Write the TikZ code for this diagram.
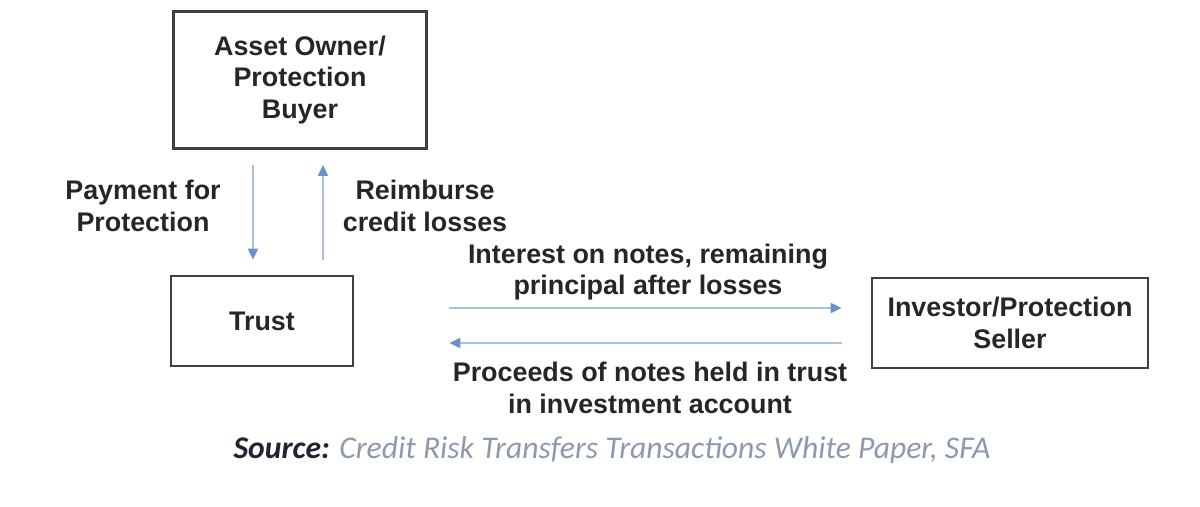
\documentclass[tikz,border=0pt]{standalone}
\usepackage{fontspec}
\setmainfont{Liberation Sans}
\newfontfamily\srcfont{Carlito}
\usetikzlibrary{calc, positioning}
\usetikzlibrary{arrows.meta}
\definecolor{flowblue}{HTML}{A9C2E0}
\definecolor{headblue}{HTML}{6693CC}
\definecolor{boxgray}{HTML}{404040}
\definecolor{srcgray}{HTML}{8C99B0}
\definecolor{srcdark}{HTML}{1F2430}

\begin{document}
\begin{tikzpicture}[x=0.02cm, y=-0.02cm,
  party/.style={draw=boxgray, line width=1.6pt, align=center, inner sep=0pt,
    font=\bfseries\fontsize{15.3}{17.8}\selectfont, text=black!85},
  lbl/.style={align=center, inner sep=0pt,
    font=\bfseries\fontsize{15.3}{17.8}\selectfont, text=black!85},
  flow/.style={draw=flowblue, line width=1.1pt,
    -{Triangle[length=2.2mm, width=2mm, color=headblue]}}]
\useasboundingbox (0,0) rectangle (1200,507);
\def\gap{15}
% parties
\node[party, minimum width=5.06cm, minimum height=2.74cm] (owner) at (300,80) {Asset Owner/\\Protection\\Buyer};
\node[party, minimum width=3.64cm, minimum height=1.8cm] (trust) at (262,321) {Trust};
\node[party, minimum width=5.52cm, minimum height=1.8cm] (investor) at (1010,323) {Investor/Protection\\Seller};
% ends of the flows
\coordinate (payTop) at ($(owner.south)+(-47,\gap)$);
\coordinate (payBot) at ($(trust.north)+(-9,-\gap)$);
\coordinate (reimBot) at ($(trust.north)+(61,-\gap)$);
\coordinate (reimTop) at ($(owner.south)+(23,\gap)$);
\coordinate (intL) at ($(trust.east)+(95,-13)$);
\coordinate (intR) at ($(investor.west)+(-29,-15)$);
\coordinate (proR) at ($(investor.west)+(-29,20)$);
\coordinate (proL) at ($(trust.east)+(95,22)$);
\draw[flow] (payTop) -- (payBot);
\draw[flow] (reimBot) -- (reimTop);
\draw[flow] (intL) -- (intR);
\draw[flow] (proR) -- (proL);
% labels
\node[lbl] (payLbl) at (143,206) {Payment for\\Protection};
\node[lbl] (reimLbl) at (425,206) {Reimburse\\credit losses};
\node[lbl] (intLbl) at (648,272) {Interest on notes, remaining\\principal after losses};
\node[lbl] (proLbl) at (650,388) {Proceeds of notes held in trust\\in investment account};
\node[font=\srcfont\itshape\fontsize{18}{21}\selectfont, text=srcgray] (source) at (612,450)
  {\textcolor{srcdark}{\bfseries Source:} Credit Risk Transfers Transactions White Paper, SFA};
\end{tikzpicture}
\end{document}
